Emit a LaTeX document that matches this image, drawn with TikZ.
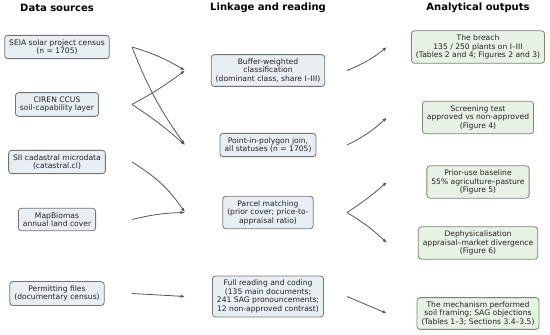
\documentclass[tikz,border=0pt]{standalone}
\usepackage{fontspec}
\setmainfont{DejaVu Sans}
\usetikzlibrary{arrows.meta, positioning, calc}
\usepackage{xcolor}
\definecolor{srcfill}{HTML}{E9EEF3}
\definecolor{outfill}{HTML}{E8F1E5}
\definecolor{boxline}{HTML}{707478}
\definecolor{outline}{HTML}{7A8677}
\definecolor{flowgrey}{HTML}{555555}
\definecolor{inkgrey}{HTML}{222222}

\begin{document}
\begin{tikzpicture}[x=1pt, y=1pt, font=\fontsize{7.6}{8.5}\selectfont, text=inkgrey,
  src/.style={draw=boxline, line width=0.8pt, rounded corners=3pt, fill=srcfill, align=center, inner xsep=4.5pt, inner ysep=4pt},
  result/.style={src, draw=outline, fill=outfill},
  head/.style={font=\fontsize{10}{12}\selectfont\bfseries, text=black},
  flow/.style={draw=flowgrey, line width=0.8pt, -{Latex[length=4.5pt, width=3.2pt]}}]
  \useasboundingbox (0,0) rectangle (550,335);
  % column headers
  \node[head] (h1) at (57,327) {Data sources};
  \node[head] (h2) at (268,327) {Linkage and reading};
  \node[head] (h3) at (478,327) {Analytical outputs};
  % data sources
  \node[src] (seia) at (57,288) {SEIA solar project census\\ (n = 1705)};
  \node[src] (ciren) at (57,230.5) {CIREN CCUS\\ soil-capability layer};
  \node[src] (sii) at (57,173) {SII cadastral microdata\\ (catastral.cl)};
  \node[src] (mapb) at (57,115.5) {MapBiomas\\ annual land cover};
  \node[src] (perm) at (57,41.5) {Permitting files\\ (documentary census)};
  % linkage and reading
  \node[src] (buf) at (268,264.5) {Buffer-weighted\\ classification\\ (dominant class, share I–III)};
  \node[src] (pip) at (268,190) {Point-in-polygon join,\\ all statuses (n = 1705)};
  \node[src] (parc) at (268,122.5) {Parcel matching\\ (prior cover; price-to-\\ appraisal ratio)};
  \node[src] (full) at (268,38.5) {Full reading and coding\\ (135 main documents;\\ 241 SAG pronouncements;\\ 12 non-approved contrast)};
  % analytical outputs
  \node[result] (breach) at (478,288) {The breach\\ 135 / 250 plants on I–III\\ (Tables 2 and 4; Figures 2 and 3)};
  \node[result] (screen) at (478,217.5) {Screening test\\ approved vs non-approved\\ (Figure 4)};
  \node[result] (prior) at (478,153) {Prior-use baseline\\ 55\% agriculture–pasture\\ (Figure 5)};
  \node[result] (dephys) at (478,92) {Dephysicalisation\\ appraisal–market divergence\\ (Figure 6)};
  \node[result] (mech) at (478,21.5) {The mechanism performed\\ soil framing; SAG objections\\ (Tables 1–3; Sections 3.4–3.5)};
  % arrow columns
  \coordinate (lo) at (132,0);
  \coordinate (li) at (185,0);
  \coordinate (ro) at (347,0);
  \coordinate (ri) at (387,0);
  \draw[flow] (seia -| lo) to[bend left=7] (buf -| li);
  \draw[flow] (seia -| lo) to[bend right=7] (pip -| li);
  \draw[flow] (ciren -| lo) to[bend right=4] (buf -| li);
  \draw[flow] (ciren -| lo) to[bend left=4] (pip -| li);
  \draw[flow] (sii -| lo) to[bend left=12] (parc -| li);
  \draw[flow] (mapb -| lo) to[bend left=6] (parc -| li);
  \draw[flow] (perm -| lo) -- (full -| li);
  \draw[flow] (buf -| ro) to[bend right=8] (breach -| ri);
  \draw[flow] (pip -| ro) to[bend right=8] (screen -| ri);
  \draw[flow] (parc -| ro) to[bend right=4] (prior -| ri);
  \draw[flow] (parc -| ro) to[bend left=6] (dephys -| ri);
  \draw[flow] (full -| ro) -- (mech -| ri);
\end{tikzpicture}
\end{document}
